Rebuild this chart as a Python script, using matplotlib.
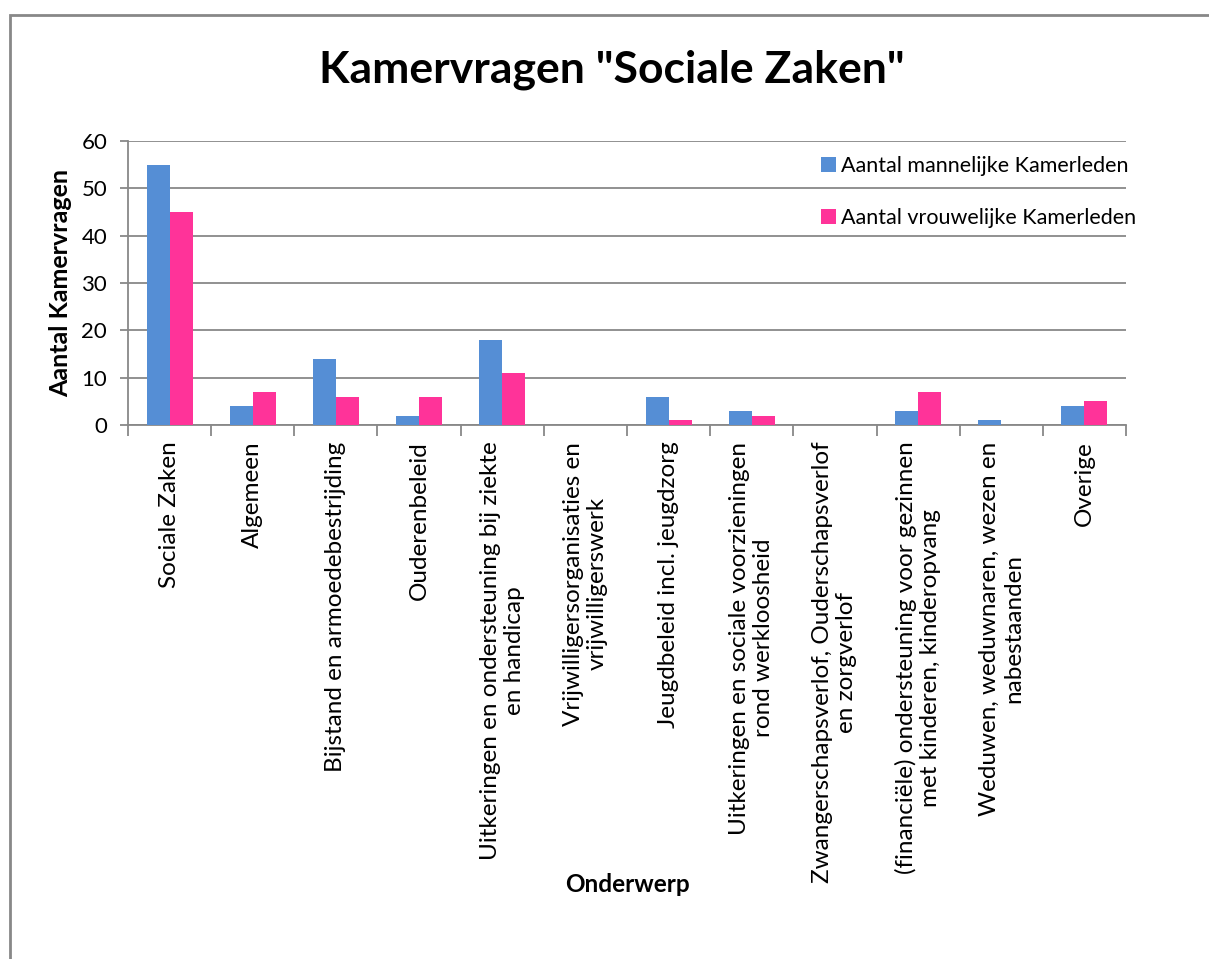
import numpy as np
import matplotlib.pyplot as plt
from matplotlib.patches import Rectangle

plt.rcParams['font.family'] = ['Lato', 'DejaVu Sans']

categories = [
    'Sociale Zaken',
    'Algemeen',
    'Bijstand en armoedebestrijding',
    'Ouderenbeleid',
    'Uitkeringen en ondersteuning bij ziekte\nen handicap',
    'Vrijwilligersorganisaties en\nvrijwilligerswerk',
    'Jeugdbeleid incl. jeugdzorg',
    'Uitkeringen en sociale voorzieningen\nrond werkloosheid',
    'Zwangerschapsverlof, Ouderschapsverlof\nen zorgverlof',
    '(financiële) ondersteuning voor gezinnen\nmet kinderen, kinderopvang',
    'Weduwen, weduwnaren, wezen en\nnabestaanden',
    'Overige',
]
mannen = [55, 4, 14, 2, 18, 0, 6, 3, 0, 3, 1, 4]
vrouwen = [45, 7, 6, 6, 11, 0, 1, 2, 0, 7, 0, 5]
yticks = [0, 10, 20, 30, 40, 50, 60]

blue = '#558ED5'
pink = '#FF3399'
grey = '#888888'

W, H = 1209, 959
fig = plt.figure(figsize=(W / 100, H / 100), dpi=100)
ax = fig.add_axes([128 / W, 1 - 425 / H, (1126 - 128) / W, (425 - 141) / H])

# outer chart border
fig.patches.append(Rectangle((9.5 / W, -0.05), 1.1, 1 - 14.5 / H + 0.05,
                             transform=fig.transFigure, fill=False,
                             edgecolor=grey, linewidth=2))

x = np.arange(len(categories))
w = 0.276
ax.bar(x - w / 2, mannen, w, color=blue, label='Aantal mannelijke Kamerleden', zorder=3)
ax.bar(x + w / 2, vrouwen, w, color=pink, label='Aantal vrouwelijke Kamerleden', zorder=3)

ax.set_xlim(-0.5, len(categories) - 0.5)
ax.set_ylim(0, 60)
ax.set_yticks(yticks)
ax.yaxis.grid(True, color=grey, linewidth=1.3, zorder=0)
ax.tick_params(axis='y', labelsize=16, length=6, color=grey, width=1.3, pad=9)

ax.set_xticks(x)
ax.set_xticklabels(categories, rotation=90, fontsize=17.5, ha='center', va='top',
                   multialignment='center', linespacing=1.18)
ax.set_xticks(np.arange(-0.5, len(categories)), minor=True)
ax.tick_params(axis='x', which='major', length=0, pad=12)
ax.tick_params(axis='x', which='minor', length=8, color=grey, width=1.3)

for s in ['top', 'right']:
    ax.spines[s].set_visible(False)
for s in ['left', 'bottom']:
    ax.spines[s].set_color(grey)
    ax.spines[s].set_linewidth(1.3)

ax.set_ylabel('Aantal Kamervragen', fontsize=18, fontweight='bold')
ax.yaxis.set_label_coords((72 - 128) / (1126 - 128), 0.5)
fig.text(627 / W, 1 - 884 / H, 'Onderwerp', fontsize=17.5, fontweight='bold',
         ha='center', va='center')
fig.text(612 / W, 1 - 70 / H, 'Kamervragen "Sociale Zaken"', fontsize=32,
         fontweight='bold', ha='center', va='center')

ax.legend(loc='upper left', bbox_to_anchor=(821 / W, 1 - 156 / H),
          bbox_transform=fig.transFigure, frameon=False, fontsize=15.5,
          handlelength=0.7, handleheight=0.7, handletextpad=0.25,
          labelspacing=1.5, borderaxespad=0, borderpad=0)

fig.savefig('out.png', dpi=100)
